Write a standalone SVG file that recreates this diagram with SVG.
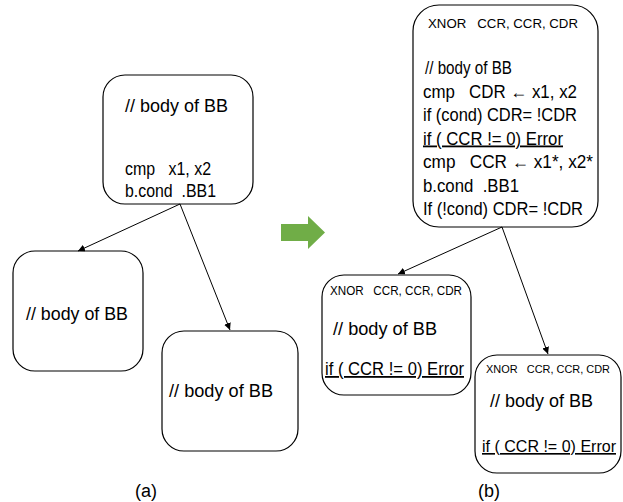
<svg xmlns="http://www.w3.org/2000/svg" width="623" height="502" viewBox="0 0 623 502">
<style>
.box{fill:#fff;stroke:#000;stroke-width:1.2}
text{font-family:"Liberation Sans",Arial,sans-serif;fill:#000}
.t{font-size:18px}
.s{font-size:13.5px}
.u{text-decoration:underline}
.edge{stroke:#000;stroke-width:1;fill:none;marker-end:url(#ah)}
</style>
<defs>
<marker id="ah" viewBox="0 0 10 10" refX="10" refY="5" markerWidth="7" markerHeight="7" markerUnits="userSpaceOnUse" orient="auto">
<path d="M0,0 L10,5 L0,10 z" fill="#000"/>
</marker>
</defs>
<g id="a_top">
<rect class="box" x="103" y="75" width="150" height="129" rx="22"/>
<text class="t" x="125" y="112" textLength="103" lengthAdjust="spacingAndGlyphs">// body of BB</text>
<text class="t" x="125" y="175" textLength="86" lengthAdjust="spacingAndGlyphs" xml:space="preserve">cmp   x1, x2</text>
<text class="t" x="125" y="197" textLength="91" lengthAdjust="spacingAndGlyphs" xml:space="preserve">b.cond  .BB1</text>
</g>
<g id="a_left">
<rect class="box" x="13" y="251" width="130" height="120" rx="22"/>
<text class="t" x="26" y="320" textLength="102" lengthAdjust="spacingAndGlyphs">// body of BB</text>
</g>
<g id="a_right">
<rect class="box" x="162" y="331" width="136" height="120" rx="22"/>
<text class="t" x="169" y="397" textLength="104" lengthAdjust="spacingAndGlyphs">// body of BB</text>
</g>
<g id="b_top">
<rect class="box" x="413" y="5" width="185" height="222" rx="26"/>
<text class="s" x="428" y="28" textLength="150" lengthAdjust="spacingAndGlyphs" xml:space="preserve">XNOR   CCR, CCR, CDR</text>
<text class="t" x="425" y="74" textLength="87" lengthAdjust="spacingAndGlyphs">// body of BB</text>
<text class="t" x="423" y="97.5" textLength="154" lengthAdjust="spacingAndGlyphs" xml:space="preserve">cmp   CDR ← x1, x2</text>
<text class="t" x="423" y="121" textLength="154" lengthAdjust="spacingAndGlyphs">if (cond) CDR= !CDR</text>
<text class="t u" x="423" y="144.5" textLength="140" lengthAdjust="spacingAndGlyphs">if ( CCR != 0) Error</text>
<text class="t" x="423" y="168" textLength="170" lengthAdjust="spacingAndGlyphs" xml:space="preserve">cmp   CCR ← x1*, x2*</text>
<text class="t" x="423" y="191.5" textLength="96" lengthAdjust="spacingAndGlyphs" xml:space="preserve">b.cond  .BB1</text>
<text class="t" x="423" y="215" textLength="160" lengthAdjust="spacingAndGlyphs">If (!cond) CDR= !CDR</text>
</g>
<g id="b_left">
<rect class="box" x="322" y="275" width="149" height="120" rx="22"/>
<text class="s" x="330" y="295" textLength="132" lengthAdjust="spacingAndGlyphs" xml:space="preserve">XNOR   CCR, CCR, CDR</text>
<text class="t" x="333" y="335" textLength="104" lengthAdjust="spacingAndGlyphs">// body of BB</text>
<text class="t u" x="325" y="375" textLength="139" lengthAdjust="spacingAndGlyphs">if ( CCR != 0) Error</text>
</g>
<g id="b_right">
<rect class="box" x="475" y="355" width="146" height="118" rx="22"/>
<text x="486" y="373" font-size="11.5" textLength="124" lengthAdjust="spacingAndGlyphs" xml:space="preserve">XNOR   CCR, CCR, CDR</text>
<text class="t" x="490" y="407" textLength="103" lengthAdjust="spacingAndGlyphs">// body of BB</text>
<text class="u" x="482" y="452" font-size="16.4" textLength="134" lengthAdjust="spacingAndGlyphs">if ( CCR != 0) Error</text>
</g>
<g id="transform_arrow">
<path d="M281,224 H308 V216 L325,232.5 L308,249 V241 H281 Z" fill="#70AD47"/>
</g>
<g id="connectors">
<line class="edge" x1="180" y1="204" x2="78" y2="251"/>
<line class="edge" x1="180" y1="204" x2="230" y2="330"/>
<line class="edge" x1="502" y1="227" x2="398" y2="274"/>
<line class="edge" x1="502" y1="227" x2="548" y2="354"/>
</g>
<g id="captions">
<text class="t" x="146" y="497" text-anchor="middle">(a)</text>
<text class="t" x="489" y="497" text-anchor="middle">(b)</text>
</g>
</svg>
